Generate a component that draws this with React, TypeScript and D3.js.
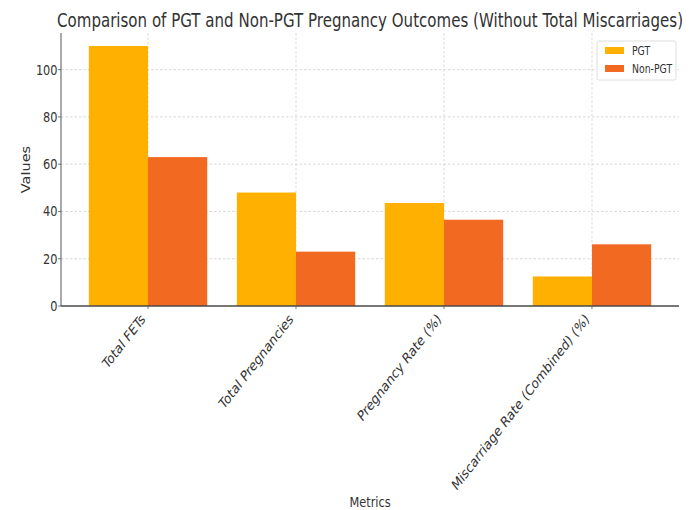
import React from "react";
import * as d3 from "d3";

const categories = [
  "Total FETs",
  "Total Pregnancies",
  "Pregnancy Rate (%)",
  "Miscarriage Rate (Combined) (%)",
];
const seriesNames = ["PGT", "Non-PGT"];
const pgtValues = [110, 48, 43.6, 12.5];
const nonPgtValues = [63, 23, 36.5, 26.1];
const yTicks = [0, 20, 40, 60, 80, 100];
const colors = ["#FFB000", "#F26A22"];

const W = 699;
const H = 510;
const margin = { left: 61, right: 20, top: 33, bottom: 204 };
const SX = 0.81;
const SX_LABEL = 0.78;
const FONT = "DejaVu Sans, sans-serif";

export default function App() {
  const x0 = margin.left;
  const x1 = W - margin.right;
  const yTop = margin.top;
  const yBottom = H - margin.bottom;

  const yMax = d3.max([...pgtValues, ...nonPgtValues])! * 1.05;
  const y = d3.scaleLinear().domain([0, yMax]).range([yBottom, yTop]);

  const x = d3
    .scaleBand<string>()
    .domain(categories)
    .range([x0, x1])
    .paddingInner(0.2)
    .paddingOuter(0.188);
  const xs = d3
    .scaleBand<string>()
    .domain(seriesNames)
    .range([0, x.bandwidth()])
    .padding(0);

  const rows = categories.map((c, i) => ({
    category: c,
    values: [pgtValues[i], nonPgtValues[i]],
  }));

  const center = (c: string) => x(c)! + x.bandwidth() / 2;

  return (
    <svg width={W} height={H} style={{ position: "absolute", left: 0, top: 0, background: "#fff" }}>
      <rect width={W} height={H} fill="#fff" />

      {/* grid */}
      <g stroke="#cfcfcf" strokeWidth={0.8} strokeDasharray="2.5,2">
        {yTicks.slice(1).map((t) => (
          <line key={"gy" + t} x1={x0} x2={x1} y1={y(t)} y2={y(t)} />
        ))}
        {categories.map((c) => (
          <line key={"gx" + c} x1={center(c)} x2={center(c)} y1={yTop} y2={yBottom} />
        ))}
      </g>

      {/* bars */}
      {rows.map((r) => (
        <g key={r.category} transform={`translate(${x(r.category)},0)`}>
          {r.values.map((v, j) => (
            <rect
              key={j}
              x={xs(seriesNames[j])}
              y={y(v)}
              width={xs.bandwidth()}
              height={y(0) - y(v)}
              fill={colors[j]}
            />
          ))}
        </g>
      ))}

      {/* spines */}
      <line x1={x0} x2={x0} y1={yTop} y2={yBottom} stroke="#7a7a7a" strokeWidth={1.3} />
      <line x1={x0} x2={x1} y1={yBottom} y2={yBottom} stroke="#4a4a4a" strokeWidth={1.3} />

      {/* y ticks */}
      {yTicks.map((t) => (
        <g key={"yt" + t}>
          <line x1={x0 - 3} x2={x0} y1={y(t)} y2={y(t)} stroke="#555" strokeWidth={0.8} />
          <g transform={`translate(${x0 - 3.5},${y(t) + 5}) scale(${SX},1)`}>
            <text textAnchor="end" fontFamily={FONT} fontSize={14} fill="#333">
              {t}
            </text>
          </g>
        </g>
      ))}

      {/* x ticks and rotated labels */}
      {categories.map((c) => (
        <g key={"xt" + c}>
          <line x1={center(c)} x2={center(c)} y1={yBottom} y2={yBottom + 3} stroke="#555" strokeWidth={0.8} />
          <g transform={`translate(${center(c) - 2},${yBottom + 14}) scale(${SX_LABEL},1) rotate(-45)`}>
            <text textAnchor="end" fontFamily={FONT} fontSize={14.6} fill="#333">
              {c}
            </text>
          </g>
        </g>
      ))}

      {/* axis titles */}
      <g transform={`translate(${(x0 + x1) / 2},${H - 3}) scale(${SX},1)`}>
        <text textAnchor="middle" fontFamily={FONT} fontSize={14} fill="#333">
          Metrics
        </text>
      </g>
      <g transform={`translate(30,${(yTop + yBottom) / 2}) scale(${SX},1) rotate(-90)`}>
        <text textAnchor="middle" fontFamily={FONT} fontSize={14.5} fill="#333">
          Values
        </text>
      </g>

      {/* title */}
      <g transform={`translate(${(x0 + x1) / 2},27) scale(${SX},1)`}>
        <text
          textAnchor="middle"
          fontFamily={FONT}
          fontSize={20}
          fill="#333"
          textLength={626 / SX}
          lengthAdjust="spacingAndGlyphs"
        >
          Comparison of PGT and Non-PGT Pregnancy Outcomes (Without Total Miscarriages)
        </text>
      </g>

      {/* legend */}
      <g>
        <rect x={597} y={41} width={79} height={39} rx={2} fill="#fff" fillOpacity={0.85} stroke="#d6d6d6" strokeWidth={0.8} />
        {seriesNames.map((s, i) => (
          <g key={s} transform={`translate(605,${47 + i * 18})`}>
            <rect x={0} y={0} width={19} height={7} fill={colors[i]} />
            <g transform={`translate(27,8) scale(${SX},1)`}>
              <text fontFamily={FONT} fontSize={11.5} fill="#333">
                {s}
              </text>
            </g>
          </g>
        ))}
      </g>
    </svg>
  );
}
